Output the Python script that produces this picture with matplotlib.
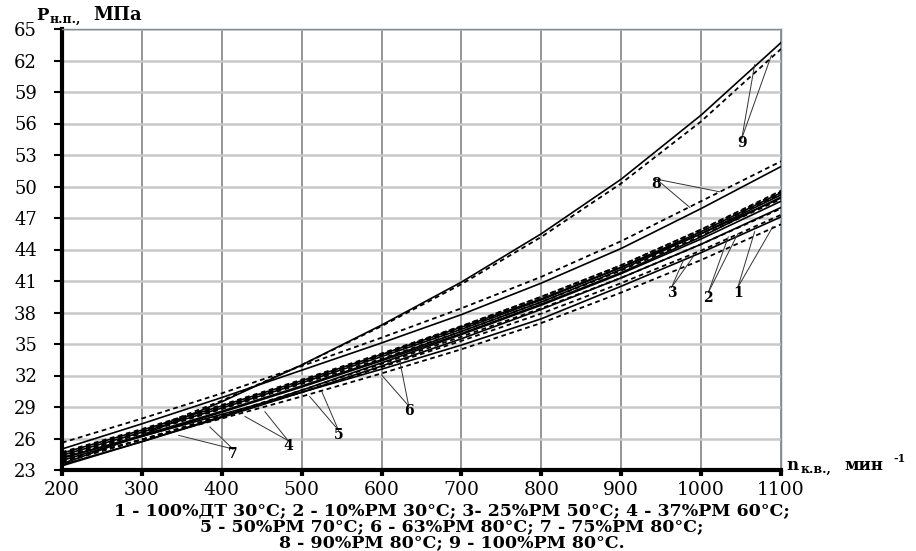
import numpy as np
import matplotlib
matplotlib.use("Agg")
import matplotlib.pyplot as plt

plt.rcParams['font.family'] = ['DejaVu Serif']

# crankshaft speed, min^-1
n_kv = [200, 300, 400, 500, 600, 700, 800, 900, 1000, 1100]

# injection pressure, MPa: solid = calculated, dashed = measured
p1_calc = [24.2, 26.2, 28.3, 30.4, 32.6, 34.9, 37.4, 40.5, 43.7, 47.1]
p1_exp = [23.9, 25.9, 27.9, 30.0, 32.2, 34.5, 37.0, 39.9, 43.0, 46.4]
p2_calc = [23.5, 25.7, 28.0, 30.4, 32.9, 35.5, 38.3, 41.3, 44.5, 48.0]
p2_exp = [23.8, 25.9, 28.1, 30.4, 32.8, 35.3, 37.9, 40.8, 43.9, 47.3]
p3_calc = [23.4, 25.7, 28.1, 30.6, 33.2, 35.9, 38.7, 41.7, 45.0, 48.6]
p3_exp = [23.7, 25.9, 28.2, 30.6, 33.1, 35.7, 38.4, 41.3, 44.5, 47.9]
p4_calc = [23.9, 26.2, 28.5, 30.9, 33.4, 36.0, 38.8, 41.8, 45.2, 49.0]
p4_exp = [24.3, 26.5, 28.8, 31.2, 33.6, 36.2, 39.0, 42.0, 45.3, 48.8]
p5_calc = [24.1, 26.3, 28.6, 31.0, 33.5, 36.2, 39.0, 42.1, 45.5, 49.2]
p5_exp = [24.5, 26.7, 29.0, 31.4, 33.9, 36.5, 39.3, 42.3, 45.7, 49.3]
p6_calc = [24.4, 26.6, 28.9, 31.3, 33.8, 36.4, 39.2, 42.3, 45.7, 49.4]
p6_exp = [24.7, 26.9, 29.2, 31.6, 34.1, 36.7, 39.5, 42.5, 45.9, 49.6]
p7_calc = [24.6, 26.8, 29.1, 31.5, 34.0, 36.6, 39.3, 42.3, 45.5, 48.9]
p7_exp = [24.2, 26.5, 28.9, 31.4, 34.0, 36.7, 39.5, 42.5, 45.9, 49.5]
p8_calc = [25.0, 27.4, 29.9, 32.5, 35.1, 37.8, 40.8, 44.1, 47.9, 51.9]
p8_exp = [25.6, 27.9, 30.3, 32.9, 35.6, 38.4, 41.4, 44.8, 48.6, 52.4]
p9_calc = [23.6, 26.3, 29.5, 33.0, 36.8, 40.9, 45.5, 50.7, 56.8, 63.7]
p9_exp = [24.0, 26.6, 29.6, 33.0, 36.7, 40.7, 45.2, 50.3, 56.2, 63.1]

# curve labels: text position and the two points the leaders touch
label_names = ["1", "2", "3", "4", "5", "6", "7", "8", "9"]
label_pos = [(1046, 39.9), (1009, 39.4), (963, 39.9), (483, 25.3), (546, 26.3),
             (634, 28.6), (414, 24.5), (944, 50.2), (1051, 54.1)]
leader_ends = [[(1067, 45.7), (1090, 46.2)],
               [(1034, 45.2), (1046, 45.5)],
               [(978, 43.0), (990, 43.3)],
               [(429, 28.1), (454, 28.55)],
               [(510, 30.0), (525, 30.5)],
               [(600, 32.05), (623, 33.3)],
               [(346, 26.3), (385, 27.1)],
               [(986, 48.0), (1023, 49.5)],
               [(1067, 61.6), (1088, 62.5)]]

calc = [p1_calc, p2_calc, p3_calc, p4_calc, p5_calc, p6_calc, p7_calc, p8_calc, p9_calc]
exp = [p1_exp, p2_exp, p3_exp, p4_exp, p5_exp, p6_exp, p7_exp, p8_exp, p9_exp]

W, H = 916, 551
fig = plt.figure(figsize=(W / 100, H / 100), dpi=100)
ax = fig.add_axes([62 / W, 1 - 470 / H, (781 - 62) / W, (470 - 29) / H])

for yc, ye in zip(calc, exp):
    ax.plot(n_kv, ye, color='black', lw=1.3, ls=(0, (2.6, 2.0)), zorder=3)
    ax.plot(n_kv, yc, color='black', lw=1.2, zorder=4)

for name, (lx, ly), ends in zip(label_names, label_pos, leader_ends):
    for ex, ey in ends:
        ax.plot([lx, ex], [ly + 0.5, ey], color='#333333', lw=0.7, zorder=5)
    ax.text(lx, ly, name, ha='center', va='center', fontsize=10,
            fontweight='bold', zorder=6)

ax.set_xlim(200, 1100)
ax.set_ylim(23, 65)
ax.set_xticks(np.arange(200, 1101, 100))
ax.set_yticks(np.arange(23, 66, 3))

ax.xaxis.grid(True, color='#8c8c8c', lw=1.3)
ax.yaxis.grid(True, color='#c8c8c8', lw=1.8)
ax.set_axisbelow(True)

for side in ['left', 'bottom']:
    ax.spines[side].set_linewidth(3)
    ax.spines[side].set_color('black')
for side in ['top', 'right']:
    ax.spines[side].set_linewidth(1)
    ax.spines[side].set_color('#7f8c94')

ax.tick_params(axis='y', direction='out', length=6, width=1.5, pad=12, labelsize=13)
ax.tick_params(axis='x', direction='out', length=4, width=3, pad=4, labelsize=13.5)

# axis titles
fig.text(36 / W, 1 - 15 / H, "P", fontsize=12, fontweight='bold', va='center')
fig.text(50 / W, 1 - 19 / H, "н.п.,", fontsize=9, fontweight='bold', va='center')
fig.text(93 / W, 1 - 15 / H, "МПа", fontsize=13, fontweight='bold', va='center')

fig.text(786 / W, 1 - 465 / H, "n", fontsize=12, fontweight='bold', va='center')
fig.text(801 / W, 1 - 469 / H, "к.в.,", fontsize=9, fontweight='bold', va='center')
fig.text(844 / W, 1 - 465 / H, "мин", fontsize=12, fontweight='bold', va='center')
fig.text(893 / W, 1 - 459 / H, "-1", fontsize=8, fontweight='bold', va='center')

legend_lines = ["1 - 100%ДТ 30°С; 2 - 10%РМ 30°С; 3- 25%РМ 50°С; 4 - 37%РМ 60°С;",
                "5 - 50%РМ 70°С; 6 - 63%РМ 80°С; 7 - 75%РМ 80°С;",
                "8 - 90%РМ 80°С; 9 - 100%РМ 80°С."]
fig.text(452 / W, 1 - 502 / H, "\n".join(legend_lines), fontsize=12.5,
         fontweight='bold', ha='center', va='top', multialignment='center',
         linespacing=0.92)

plt.savefig("out.png", dpi=100)
